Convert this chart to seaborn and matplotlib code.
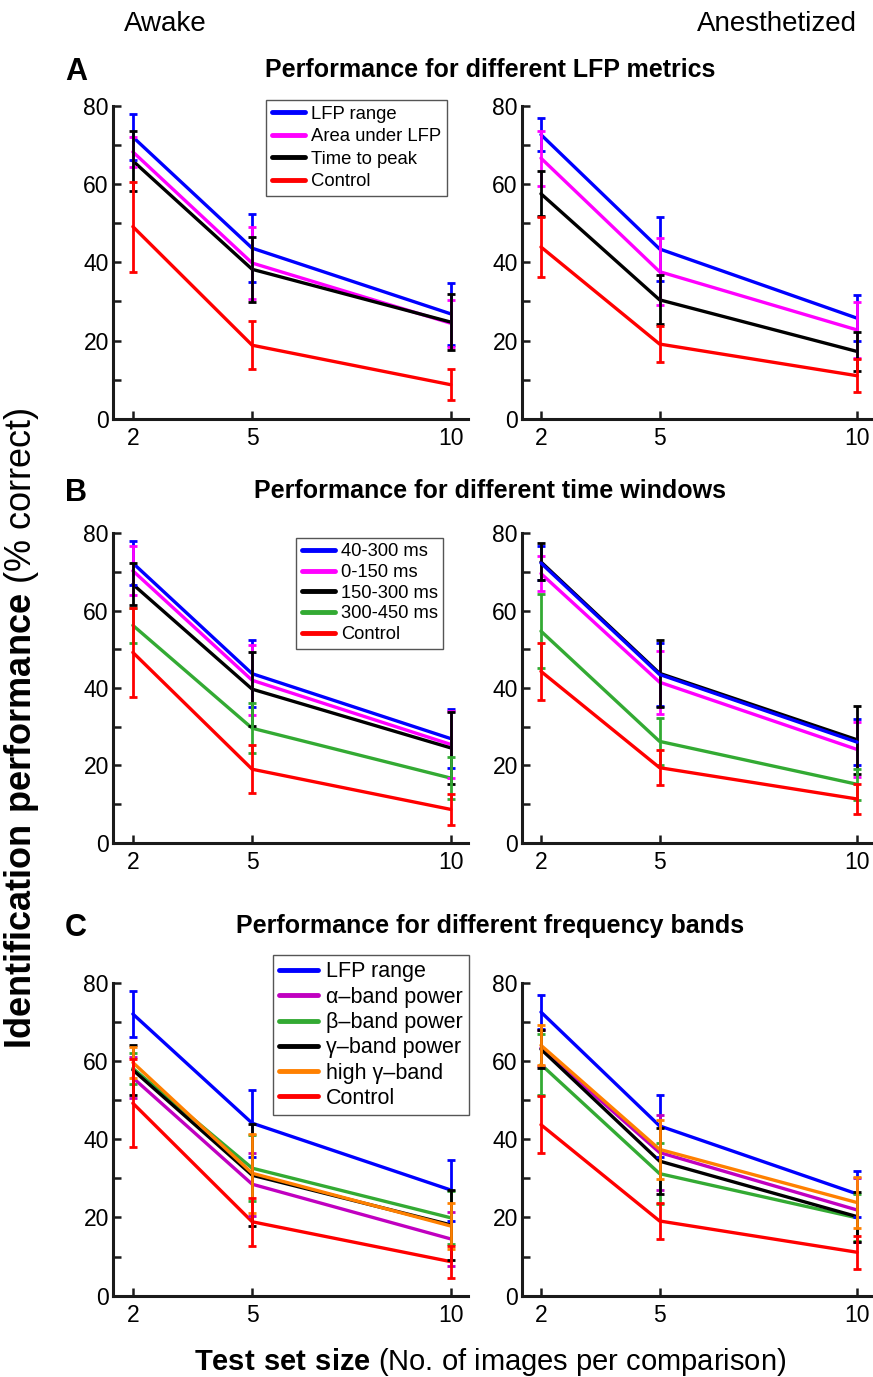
import numpy as np
import pandas as pd
import matplotlib
matplotlib.use("Agg")
import matplotlib.pyplot as plt
from matplotlib.lines import Line2D
import seaborn as sns

# ---------------- data ----------------
test_sizes = [2, 5, 10]

# Panel A: LFP metrics
a_labels = ["LFP range", "Area under LFP", "Time to peak", "Control"]
a_awake_mean = [[72.0, 43.6, 26.8], [68.2, 39.8, 24.4], [65.9, 38.2, 24.7], [49.1, 18.8, 8.7]]
a_awake_err = [[5.8, 8.7, 8.0], [3.8, 9.2, 6.0], [7.7, 8.3, 7.2], [11.5, 6.2, 4.0]]
a_anes_mean = [[72.6, 43.4, 25.7], [66.6, 37.6, 22.7], [57.5, 30.4, 17.2], [43.9, 19.1, 11.0]]
a_anes_err = [[4.3, 8.1, 5.9], [7.0, 8.6, 7.1], [5.8, 6.3, 5.0], [7.6, 4.6, 4.2]]

# Panel B: time windows
b_labels = ["40-300 ms", "0-150 ms", "150-300 ms", "300-450 ms", "Control"]
b_awake_mean = [[72.3, 43.7, 26.9], [70.3, 42.0, 25.4], [66.8, 39.7, 24.5], [56.2, 29.6, 16.7], [49.2, 19.0, 8.6]]
b_awake_err = [[5.7, 8.6, 7.7], [6.3, 9.1, 8.6], [5.4, 9.6, 9.4], [4.6, 6.4, 5.5], [11.5, 6.2, 4.0]]
b_anes_mean = [[72.3, 43.5, 26.0], [69.6, 41.5, 24.1], [72.6, 43.8, 26.6], [54.7, 26.2, 15.1], [44.3, 19.4, 11.3]]
b_anes_err = [[4.4, 8.2, 6.0], [4.5, 8.1, 7.1], [4.8, 8.7, 8.8], [9.5, 6.0, 4.0], [7.4, 4.5, 4.0]]

# Panel C: frequency bands
c_labels = ["LFP range", "\u03b1\u2013band power", "\u03b2\u2013band power",
            "\u03b3\u2013band power", "high \u03b3\u2013band", "Control"]
c_awake_mean = [[72.0, 44.1, 27.0], [55.7, 28.5, 14.5], [58.1, 32.6, 19.9],
                [57.7, 30.8, 18.1], [59.6, 31.3, 17.8], [49.2, 18.9, 8.7]]
c_awake_err = [[5.8, 8.6, 7.8], [5.2, 8.1, 6.9], [3.9, 8.4, 6.8],
               [6.3, 13.0, 9.0], [3.9, 10.1, 5.8], [11.3, 6.1, 4.1]]
c_anes_mean = [[72.5, 43.4, 26.0], [63.3, 36.6, 21.9], [59.1, 31.2, 19.9],
               [63.0, 34.4, 20.2], [64.0, 37.4, 23.8], [43.7, 19.1, 11.1]]
c_anes_err = [[4.4, 8.0, 6.0], [4.7, 9.7, 8.1], [7.7, 7.8, 6.0],
              [4.8, 8.5, 6.4], [5.1, 7.5, 6.5], [7.3, 4.5, 4.2]]

a_colors = ["#0000ff", "#ff00ff", "#000000", "#ff0000"]
b_colors = ["#0000ff", "#ff00ff", "#000000", "#33aa33", "#ff0000"]
c_colors = ["#0000ff", "#c000c0", "#33aa33", "#000000", "#ff8000", "#ff0000"]

titles = ["Performance for different LFP metrics",
          "Performance for different time windows",
          "Performance for different frequency bands"]
panel_letters = ["A", "B", "C"]
y_ticks = [0, 20, 40, 60, 80]
y_minor = [10, 30, 50, 70]

# ---------------- style ----------------
sns.set_theme(style="ticks")
plt.rcParams["font.family"] = ["Liberation Sans", "DejaVu Sans"]
plt.rcParams["mathtext.fontset"] = "custom"
plt.rcParams["mathtext.rm"] = "Liberation Sans"
plt.rcParams["mathtext.bf"] = "Liberation Sans:bold"
plt.rcParams["text.color"] = "black"
plt.rcParams["axes.labelcolor"] = "black"
plt.rcParams["xtick.color"] = "black"
plt.rcParams["ytick.color"] = "black"

W, H = 873, 1377
fig = plt.figure(figsize=(W / 100, H / 100), dpi=100)


def rect(x0, x1, ytop, ybot):
    return [x0 / W, 1 - ybot / H, (x1 - x0) / W, (ybot - ytop) / H]


rows_y = [(105.7, 418.8), (533.3, 842.7), (982.7, 1295.7)]
left_x = (113, 468)
right_x = (522, 871)

panels = [
    (a_labels, a_colors, a_awake_mean, a_awake_err, a_anes_mean, a_anes_err),
    (b_labels, b_colors, b_awake_mean, b_awake_err, b_anes_mean, b_anes_err),
    (c_labels, c_colors, c_awake_mean, c_awake_err, c_anes_mean, c_anes_err),
]
legend_pos = [(266, 100, 13.3, 0.3), (296, 538, 13.2, 0.2), (273, 955, 15.5, 0.2)]


def draw(ax, labels, colors, means, errs, xlim, zorders=None):
    rows = []
    for lab, m in zip(labels, means):
        for s, v in zip(test_sizes, m):
            rows.append({"size": s, "perf": v, "series": lab})
    df = pd.DataFrame(rows)
    sns.lineplot(data=df, x="size", y="perf", hue="series", hue_order=labels,
                 palette=dict(zip(labels, colors)), linewidth=2.4,
                 errorbar=None, legend=False, ax=ax)
    for i, (lab, col, m, e) in enumerate(zip(labels, colors, means, errs)):
        ax.errorbar(test_sizes, m, yerr=e, fmt="none", ecolor=col,
                    elinewidth=2.0, capsize=3, capthick=2.0, zorder=2 + i * 0.1,
                    clip_on=False)
    if zorders:
        for line, z in zip(ax.get_lines()[:len(labels)], zorders):
            line.set_zorder(z)
    ax.set_xlim(*xlim)
    ax.set_ylim(0, 80)
    ax.set_xticks(test_sizes)
    ax.set_xticklabels([str(s) for s in test_sizes])
    ax.set_yticks(y_ticks)
    ax.set_yticks(y_minor, minor=True)
    ax.set_xlabel("")
    ax.set_ylabel("")
    for sp in ["top", "right"]:
        ax.spines[sp].set_visible(False)
    for sp in ["left", "bottom"]:
        ax.spines[sp].set_linewidth(2.2)
        ax.spines[sp].set_color("#1a1a1a")
    ax.tick_params(axis="both", which="both", direction="in", length=6,
                   width=1.8, color="#1a1a1a", labelsize=16.5, labelcolor="black")
    ax.tick_params(axis="y", which="major", pad=3)
    ax.tick_params(axis="x", which="major", pad=6)
    ax.set_facecolor("white")


for r, (labels, colors, am, ae, nm, ne) in enumerate(panels):
    ytop, ybot = rows_y[r]
    axL = fig.add_axes(rect(left_x[0], left_x[1], ytop, ybot))
    axR = fig.add_axes(rect(right_x[0], right_x[1], ytop, ybot))
    draw(axL, labels, colors, am, ae, (1.5, 10.43))
    zr = None
    if r == 1:
        zr = [3.5, 2.2, 2.1, 2.3, 2.4]
    draw(axR, labels, colors, nm, ne, (1.52, 10.35), zr)

    handles = [Line2D([0], [0], color=c, lw=3.5) for c in colors]
    lx, ly, fs, ls = legend_pos[r]
    leg = fig.legend(handles, labels, loc="upper left",
                     bbox_to_anchor=(lx / W, 1 - ly / H), bbox_transform=fig.transFigure,
                     fontsize=fs, frameon=True, fancybox=False, framealpha=1,
                     edgecolor="#555555", borderpad=0.3, labelspacing=ls,
                     handlelength=1.8, handletextpad=0.35, borderaxespad=0)
    leg.get_frame().set_linewidth(1.0)

# ---------------- texts ----------------
fig.text(165 / W, 1 - 24 / H, "Awake", ha="center", va="center", fontsize=20)
fig.text(777 / W, 1 - 24 / H, "Anesthetized", ha="center", va="center", fontsize=20)

letter_y = [72, 493, 928]
for letter, title, yy in zip(panel_letters, titles, letter_y):
    fig.text(76 / W, 1 - yy / H, letter, ha="center", va="center",
             fontsize=22, fontweight="bold")
    fig.text(490 / W, 1 - (yy - 2) / H, title, ha="center", va="center",
             fontsize=18, fontweight="bold")

fig.text(22 / W, 1 - 728 / H,
         r"$\bf{Identification\ performance}$ (% correct)",
         rotation=90, ha="center", va="center", fontsize=26)
fig.text(490 / W, 1 - 1362 / H,
         r"$\bf{Test\ set\ size}$ (No. of images per comparison)",
         ha="center", va="center", fontsize=21)

fig.savefig("out.png", dpi=100, facecolor="white")
